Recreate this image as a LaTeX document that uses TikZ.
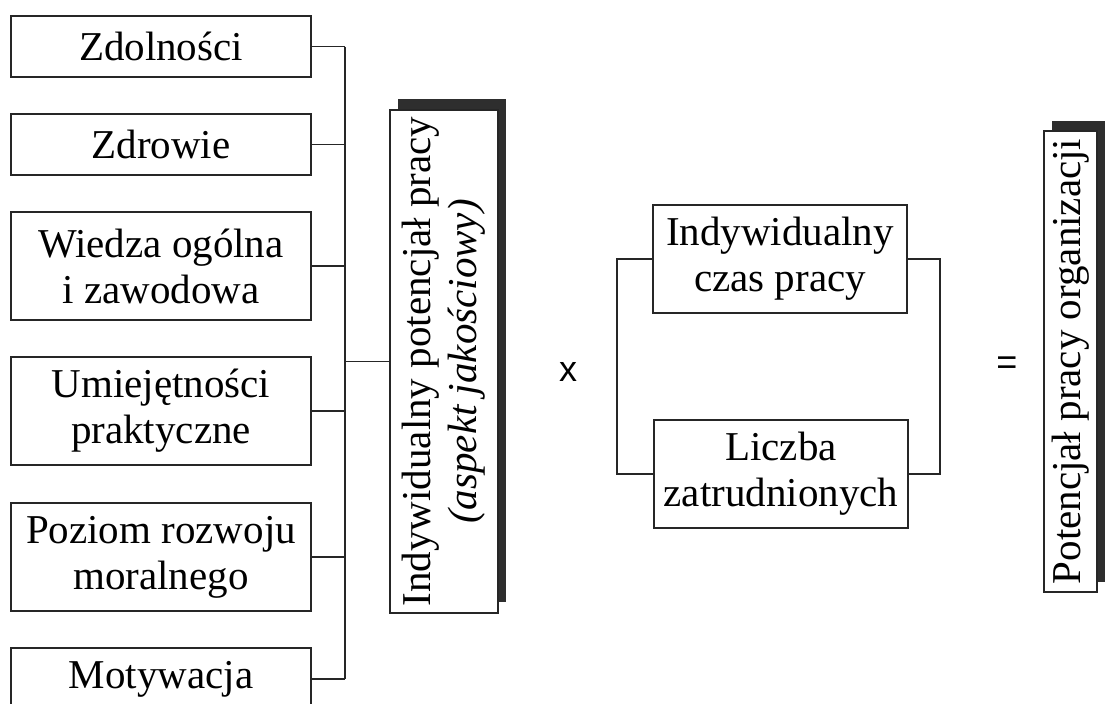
\documentclass[tikz,border=0pt]{standalone}
\usepackage{fontspec}
\setmainfont{Liberation Serif}
\newfontfamily\opsans{Liberation Sans}
\usetikzlibrary{backgrounds}
\begin{document}
\begin{tikzpicture}[x=1pt,y=-1pt,
  every node/.style={inner sep=0pt, outer sep=0pt},
  line/.style={draw=black!85, line width=1.2pt},
  fbox/.style={line, fill=white, align=center,
    font=\fontsize{41}{46}\selectfont},
  leftbox/.style={fbox, minimum width=300pt},
  midbox/.style={fbox, minimum width=254pt, minimum height=108pt},
  vbox/.style={fbox, rotate=90},
  shade/.style={fill=black!82},
  op/.style={font=\opsans\fontsize{36}{36}\selectfont}
]
\useasboundingbox (0,0) rectangle (1106,704);

% factors of the individual work potential
\node[leftbox, minimum height=61pt]  (zd) at (161,46.5) {Zdolności};
\node[leftbox, minimum height=61pt]  (zr) at (161,144.5) {Zdrowie};
\node[leftbox, minimum height=108pt] (wi) at (161,266) {Wiedza ogólna\\i zawodowa};
\node[leftbox, minimum height=108pt] (um) at (161,411) {Umiejętności\\praktyczne};
\node[leftbox, minimum height=108pt] (po) at (161,557) {Poziom rozwoju\\moralnego};
\node[leftbox, minimum height=62pt]  (mo) at (161,679) {Motywacja};

% collecting bus
\coordinate (bus) at (345,0);
\foreach \b in {zd,zr,wi,um,po,mo}
  \draw[line] (\b.east) -- (\b.east -| bus);
\draw[line] (zd.east -| bus) -- (mo.east -| bus);

% individual potential (qualitative); rotated, so its left side is "north"
\node[vbox, minimum width=503pt, minimum height=108pt] (ind) at (444,361.5)
  {Indywidualny potencjał pracy\\\textit{(aspekt jakościowy)}};
\draw[line] (ind.north -| bus) -- (ind.north);

% multiplication
\node[op] (times) at (568,372) {x};

% quantitative factors
\node[midbox] (czas) at (780,259) {Indywidualny\\czas pracy};
\node[midbox] (licz) at (781,474) {Liczba\\zatrudnionych};
\coordinate (lb) at (617,0);
\coordinate (rb) at (940,0);
\draw[line] (czas.west) -- (czas.west -| lb) -- (licz.west -| lb) -- (licz.west);
\draw[line] (czas.east) -- (czas.east -| rb) -- (licz.east -| rb) -- (licz.east);

% result
\node[op] (eq) at (1007,366) {=};
\node[vbox, minimum width=461pt, minimum height=53pt] (org) at (1070.5,361.5)
  {Potencjał pracy organizacji};

% drop shadows behind the upright boxes
\begin{scope}[on background layer]
  \fill[shade] ([shift={(8,-11)}]ind.north west) rectangle ([shift={(8,-11)}]ind.south east);
  \fill[shade] ([shift={(8,-10)}]org.north west) rectangle ([shift={(8,-10)}]org.south east);
\end{scope}
\end{tikzpicture}
\end{document}
